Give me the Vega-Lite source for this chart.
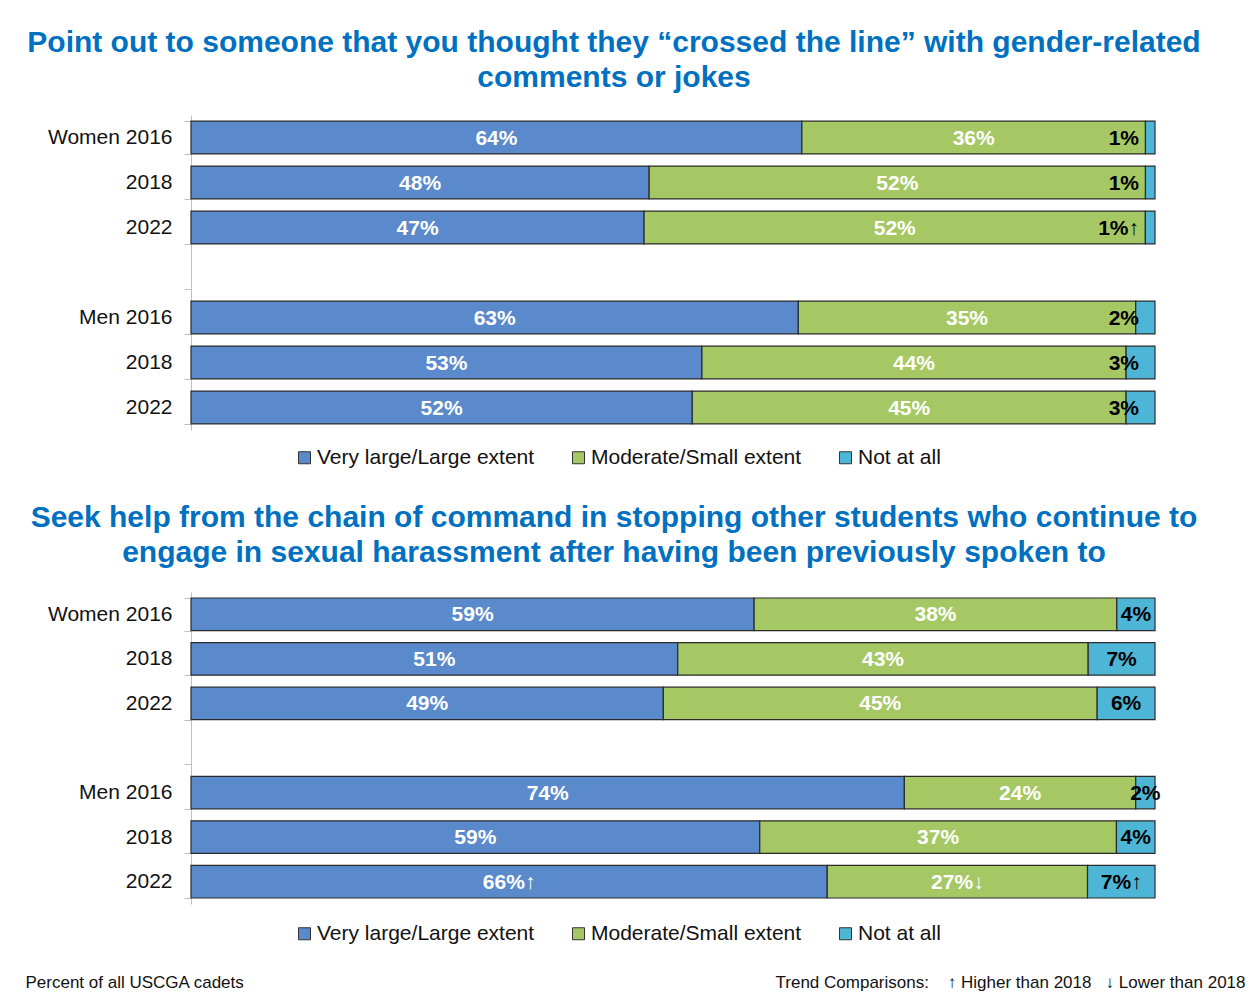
{
  "$schema": "https://vega.github.io/schema/vega-lite/v6.json",
  "background": "white",
  "padding": {"left": 25, "top": 28, "right": 10, "bottom": 5},
  "bounds": "flush",
  "spacing": 162,
  "config": {"view": {"stroke": null}, "font": "Liberation Sans"},
  "resolve": {"scale": {"color": "independent"}, "legend": {"color": "independent"}},
  "datasets": {
    "survey": [
      {"panel": 1, "row": "W2016", "cat": "Very large/Large extent", "seq": 1, "value": 64, "label": "64%"},
      {"panel": 1, "row": "W2016", "cat": "Moderate/Small extent", "seq": 2, "value": 36, "label": "36%"},
      {"panel": 1, "row": "W2016", "cat": "Not at all", "seq": 3, "value": 1, "label": "1%"},
      {"panel": 1, "row": "W2018", "cat": "Very large/Large extent", "seq": 1, "value": 48, "label": "48%"},
      {"panel": 1, "row": "W2018", "cat": "Moderate/Small extent", "seq": 2, "value": 52, "label": "52%"},
      {"panel": 1, "row": "W2018", "cat": "Not at all", "seq": 3, "value": 1, "label": "1%"},
      {"panel": 1, "row": "W2022", "cat": "Very large/Large extent", "seq": 1, "value": 47, "label": "47%"},
      {"panel": 1, "row": "W2022", "cat": "Moderate/Small extent", "seq": 2, "value": 52, "label": "52%"},
      {"panel": 1, "row": "W2022", "cat": "Not at all", "seq": 3, "value": 1, "label": "1%↑"},
      {"panel": 1, "row": "M2016", "cat": "Very large/Large extent", "seq": 1, "value": 63, "label": "63%"},
      {"panel": 1, "row": "M2016", "cat": "Moderate/Small extent", "seq": 2, "value": 35, "label": "35%"},
      {"panel": 1, "row": "M2016", "cat": "Not at all", "seq": 3, "value": 2, "label": "2%"},
      {"panel": 1, "row": "M2018", "cat": "Very large/Large extent", "seq": 1, "value": 53, "label": "53%"},
      {"panel": 1, "row": "M2018", "cat": "Moderate/Small extent", "seq": 2, "value": 44, "label": "44%"},
      {"panel": 1, "row": "M2018", "cat": "Not at all", "seq": 3, "value": 3, "label": "3%"},
      {"panel": 1, "row": "M2022", "cat": "Very large/Large extent", "seq": 1, "value": 52, "label": "52%"},
      {"panel": 1, "row": "M2022", "cat": "Moderate/Small extent", "seq": 2, "value": 45, "label": "45%"},
      {"panel": 1, "row": "M2022", "cat": "Not at all", "seq": 3, "value": 3, "label": "3%"},
      {"panel": 2, "row": "W2016", "cat": "Very large/Large extent", "seq": 1, "value": 59, "label": "59%"},
      {"panel": 2, "row": "W2016", "cat": "Moderate/Small extent", "seq": 2, "value": 38, "label": "38%"},
      {"panel": 2, "row": "W2016", "cat": "Not at all", "seq": 3, "value": 4, "label": "4%"},
      {"panel": 2, "row": "W2018", "cat": "Very large/Large extent", "seq": 1, "value": 51, "label": "51%"},
      {"panel": 2, "row": "W2018", "cat": "Moderate/Small extent", "seq": 2, "value": 43, "label": "43%"},
      {"panel": 2, "row": "W2018", "cat": "Not at all", "seq": 3, "value": 7, "label": "7%"},
      {"panel": 2, "row": "W2022", "cat": "Very large/Large extent", "seq": 1, "value": 49, "label": "49%"},
      {"panel": 2, "row": "W2022", "cat": "Moderate/Small extent", "seq": 2, "value": 45, "label": "45%"},
      {"panel": 2, "row": "W2022", "cat": "Not at all", "seq": 3, "value": 6, "label": "6%"},
      {"panel": 2, "row": "M2016", "cat": "Very large/Large extent", "seq": 1, "value": 74, "label": "74%"},
      {"panel": 2, "row": "M2016", "cat": "Moderate/Small extent", "seq": 2, "value": 24, "label": "24%"},
      {"panel": 2, "row": "M2016", "cat": "Not at all", "seq": 3, "value": 2, "label": "2%"},
      {"panel": 2, "row": "M2018", "cat": "Very large/Large extent", "seq": 1, "value": 59, "label": "59%"},
      {"panel": 2, "row": "M2018", "cat": "Moderate/Small extent", "seq": 2, "value": 37, "label": "37%"},
      {"panel": 2, "row": "M2018", "cat": "Not at all", "seq": 3, "value": 4, "label": "4%"},
      {"panel": 2, "row": "M2022", "cat": "Very large/Large extent", "seq": 1, "value": 66, "label": "66%↑"},
      {"panel": 2, "row": "M2022", "cat": "Moderate/Small extent", "seq": 2, "value": 27, "label": "27%↓"},
      {"panel": 2, "row": "M2022", "cat": "Not at all", "seq": 3, "value": 7, "label": "7%↑"}
    ]
  },
  "vconcat": [
    {
      "title": {"text": ["Point out to someone that you thought they “crossed the line” with gender-related", "comments or jokes"], "fontSize": 30, "lineHeight": 35, "fontWeight": "bold", "color": "#0070C0", "font": "Liberation Sans", "anchor": "middle", "frame": "group", "dx": -59, "offset": 11},
      "width": 964,
      "height": 315,
      "data": {"name": "survey"},
      "transform": [
        {"filter": "datum.panel == 1"},
        {"stack": "value", "groupby": ["panel", "row"], "sort": [{"field": "seq", "order": "ascending"}], "offset": "normalize", "as": ["x0", "x1"]},
        {"calculate": "(datum.x0 + datum.x1) / 2", "as": "mid"}
      ],
      "encoding": {
        "y": {
          "field": "row", "type": "nominal",
          "scale": {"domain": ["W2016", "W2018", "W2022", "gap", "M2016", "M2018", "M2022"], "paddingInner": 0.27, "paddingOuter": 0.135},
          "axis": {"title": null, "labelExpr": "datum.value == 'W2016' ? 'Women 2016' : datum.value == 'M2016' ? 'Men 2016' : indexof(['W2018', 'W2022', 'M2018', 'M2022'], datum.value) >= 0 ? substring(datum.value, 1) : ''", "tickBand": "extent", "tickSize": 7, "tickColor": "#BFBFBF", "domainColor": "#BFBFBF", "labelPadding": 12, "labelFontSize": 21, "labelColor": "#111111", "labelFont": "Liberation Sans", "grid": false}
        }
      },
      "layer": [
        {
          "mark": {"type": "bar", "stroke": "#2b2b2b", "strokeWidth": 1.2},
          "encoding": {
            "x": {"field": "x0", "type": "quantitative", "scale": {"domain": [0, 1], "nice": false}, "axis": null},
            "x2": {"field": "x1"},
            "color": {
              "field": "cat", "type": "nominal",
              "scale": {"domain": ["Very large/Large extent", "Moderate/Small extent", "Not at all"], "range": ["#5A8ACB", "#A6C864", "#4DB6D7"]},
              "legend": {"title": null, "orient": "none", "legendX": 103, "legendY": 332, "direction": "horizontal", "symbolType": "square", "symbolSize": 144, "symbolStrokeColor": "#333333", "symbolStrokeWidth": 1, "labelFontSize": 21, "labelFont": "Liberation Sans", "labelColor": "#111111", "labelLimit": 0, "columnPadding": 33, "labelOffset": 2, "padding": 0}
            }
          }
        },
        {
          "transform": [{"filter": "datum.seq < 3"}],
          "mark": {"type": "text", "color": "white", "fontWeight": "bold", "fontSize": 21, "font": "Liberation Sans", "dy": 1},
          "encoding": {
            "x": {"field": "mid", "type": "quantitative", "scale": {"domain": [0, 1], "nice": false}, "axis": null},
            "text": {"field": "label"}
          }
        },
        {
          "transform": [{"filter": "datum.seq == 3"}],
          "mark": {"type": "text", "color": "black", "fontWeight": "bold", "fontSize": 21, "font": "Liberation Sans", "align": "right", "dx": -16, "dy": 1},
          "encoding": {
            "x": {"field": "x1", "type": "quantitative", "scale": {"domain": [0, 1], "nice": false}, "axis": null},
            "text": {"field": "label"}
          }
        }
      ]
    },
    {
      "title": {"text": ["Seek help from the chain of command in stopping other students who continue to", "engage in sexual harassment after having been previously spoken to"], "fontSize": 30, "lineHeight": 35, "fontWeight": "bold", "color": "#0070C0", "font": "Liberation Sans", "anchor": "middle", "frame": "group", "dx": -59, "offset": 13},
      "width": 964,
      "height": 312,
      "data": {"name": "survey"},
      "transform": [
        {"filter": "datum.panel == 2"},
        {"stack": "value", "groupby": ["panel", "row"], "sort": [{"field": "seq", "order": "ascending"}], "offset": "normalize", "as": ["x0", "x1"]},
        {"calculate": "(datum.x0 + datum.x1) / 2", "as": "mid"}
      ],
      "resolve": {"axis": {"y": "independent"}},
      "layer": [
        {
          "mark": {"type": "bar", "stroke": "#2b2b2b", "strokeWidth": 1.2},
          "encoding": {
            "y": {
              "field": "row", "type": "nominal",
              "scale": {"domain": ["W2016", "W2018", "W2022", "gap", "M2016", "M2018", "M2022"], "paddingInner": 0.27, "paddingOuter": 0.135},
              "axis": {"orient": "left", "title": "Percent of all USCGA cadets", "titleAngle": 0, "titleX": -166, "titleY": 390, "titleAlign": "left", "titleBaseline": "middle", "titleFontSize": 17, "titleFontWeight": "normal", "titleColor": "#111111", "titleFont": "Liberation Sans", "labelExpr": "datum.value == 'W2016' ? 'Women 2016' : datum.value == 'M2016' ? 'Men 2016' : indexof(['W2018', 'W2022', 'M2018', 'M2022'], datum.value) >= 0 ? substring(datum.value, 1) : ''", "tickBand": "extent", "tickSize": 7, "tickColor": "#BFBFBF", "domainColor": "#BFBFBF", "labelPadding": 12, "labelFontSize": 21, "labelColor": "#111111", "labelFont": "Liberation Sans", "grid": false}
            },
            "x": {"field": "x0", "type": "quantitative", "scale": {"domain": [0, 1], "nice": false}, "axis": null},
            "x2": {"field": "x1"},
            "color": {
              "field": "cat", "type": "nominal",
              "scale": {"domain": ["Very large/Large extent", "Moderate/Small extent", "Not at all"], "range": ["#5A8ACB", "#A6C864", "#4DB6D7"]},
              "legend": {"title": null, "orient": "none", "legendX": 103, "legendY": 331, "direction": "horizontal", "symbolType": "square", "symbolSize": 144, "symbolStrokeColor": "#333333", "symbolStrokeWidth": 1, "labelFontSize": 21, "labelFont": "Liberation Sans", "labelColor": "#111111", "labelLimit": 0, "columnPadding": 33, "labelOffset": 2, "padding": 0}
            }
          }
        },
        {
          "transform": [{"filter": "datum.seq < 3"}],
          "mark": {"type": "text", "color": "white", "fontWeight": "bold", "fontSize": 21, "font": "Liberation Sans", "dy": 1},
          "encoding": {
            "y": {"field": "row", "type": "nominal", "axis": null},
            "x": {"field": "mid", "type": "quantitative", "scale": {"domain": [0, 1], "nice": false}, "axis": null},
            "text": {"field": "label"}
          }
        },
        {
          "transform": [{"filter": "datum.seq == 3"}],
          "mark": {"type": "text", "color": "black", "fontWeight": "bold", "fontSize": 21, "font": "Liberation Sans", "dy": 1},
          "encoding": {
            "y": {"field": "row", "type": "nominal",
              "axis": {"orient": "right", "title": "Trend Comparisons:\u00a0\u00a0\u00a0\u00a0↑ Higher than 2018\u00a0\u00a0\u00a0↓ Lower than 2018", "labels": false, "ticks": false, "domain": false, "grid": false, "titleAngle": 0, "titleX": 90, "titleY": 390, "titleAlign": "right", "titleBaseline": "middle", "titleFontSize": 17, "titleFontWeight": "normal", "titleColor": "#111111", "titleFont": "Liberation Sans"}},
            "x": {"field": "mid", "type": "quantitative", "scale": {"domain": [0, 1], "nice": false}, "axis": null},
            "text": {"field": "label"}
          }
        }
      ]
    }
  ]
}
